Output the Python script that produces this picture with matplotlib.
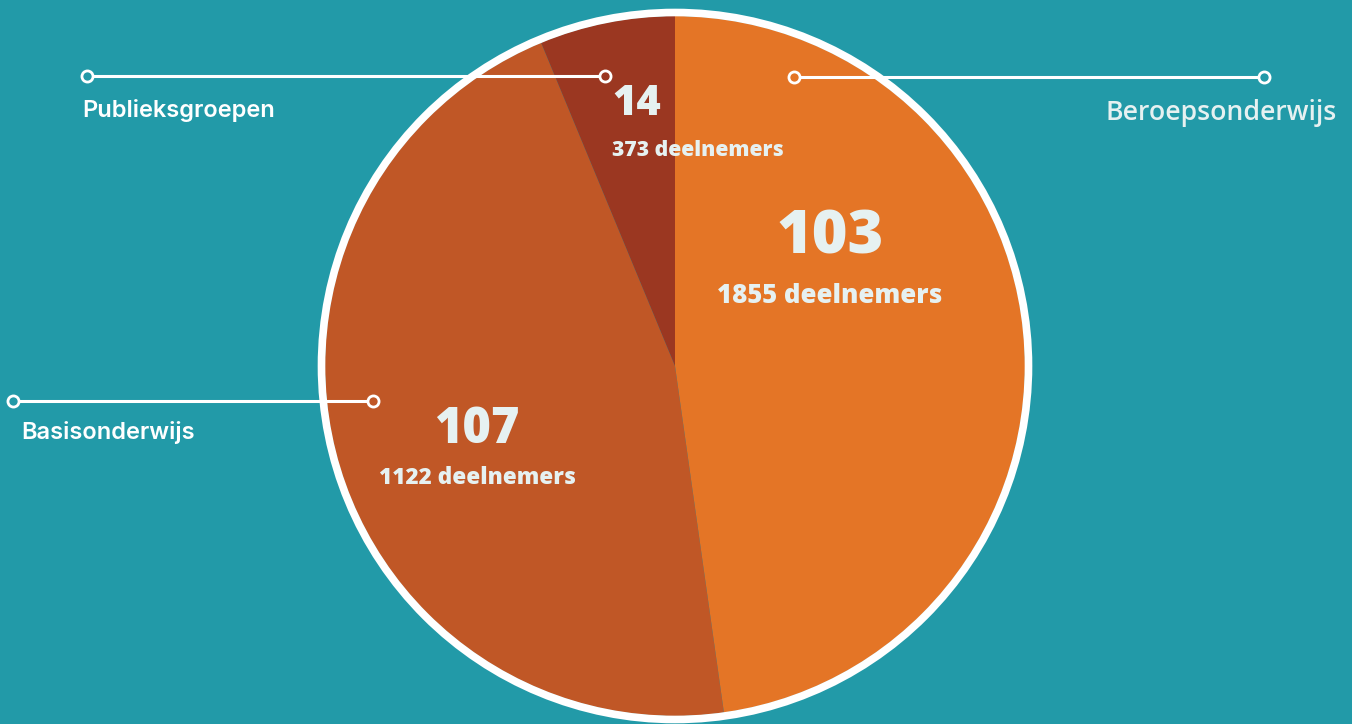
import matplotlib.pyplot as plt
from matplotlib.patches import Circle

# data
categories = ["Beroepsonderwijs", "Basisonderwijs", "Publieksgroepen"]
counts = [103, 107, 14]
participants = [1855, 1122, 373]
# wedge sizes as they are drawn (orange, red, dark red), clockwise from top
slice_sizes = [107, 103, 14]
slice_colors = ["#E47526", "#C05726", "#9B3721"]

bg = "#229AA8"
txt = "#E6F1F1"
H = 724

fig = plt.figure(figsize=(13.52, 7.24), dpi=100, facecolor=bg)
ax = fig.add_axes([0, 0, 1, 1])
ax.set_facecolor(bg)

cx, cy, r = 675, H - 366, 350
ax.pie(slice_sizes, colors=slice_colors, startangle=90, counterclock=False,
       center=(cx, cy), radius=r, frame=True,
       wedgeprops=dict(linewidth=0, antialiased=True))
ax.set_xlim(0, 1352)
ax.set_ylim(0, H)
ax.set_aspect("equal")
ax.axis("off")
ax.add_patch(Circle((cx, cy), r + 3.5, fill=False, ec="white", lw=5.5, zorder=3))

# leader lines: (x0, x1, y, face colours of the two end rings)
leaders = [
    (87, 605, 76, bg, slice_colors[2]),
    (794, 1264, 77, slice_colors[0], bg),
    (13, 373, 401, bg, slice_colors[1]),
]
for x0, x1, y, f0, f1 in leaders:
    ax.plot([x0, x1], [H - y, H - y], color="white", lw=2.2, zorder=4,
            solid_capstyle="butt")
    for x, fc in ((x0, f0), (x1, f1)):
        ax.plot(x, H - y, marker="o", ms=8, mfc=fc, mec="white", mew=2, zorder=5)

# category labels
ax.text(82, H - 111, categories[2], fontsize=17, color="white",
        family="Inter", weight="semibold", ha="left", va="center")
ax.text(1337, H - 113, categories[0], fontsize=19.2, color=txt,
        family="Open Sans", weight="semibold", ha="right", va="center")
ax.text(21, H - 432, categories[1], fontsize=17, color="white",
        family="Inter", weight="semibold", ha="left", va="center")

# value labels
big = dict(color=txt, family="Open Sans", weight="heavy", ha="center", va="center", zorder=6)
ax.text(830, H - 237, str(counts[0]), fontsize=44, **big)
ax.text(830, H - 296, f"{participants[0]} deelnemers", fontsize=18.5, **big)
ax.text(477, H - 430, str(counts[1]), fontsize=35, **big)
ax.text(477, H - 478, f"{participants[1]} deelnemers", fontsize=16.2, **big)
ax.text(637, H - 104, str(counts[2]), fontsize=30, **big)
ax.text(698, H - 150, f"{participants[2]} deelnemers", fontsize=15.2, **big)

fig.savefig("out.png", dpi=100, facecolor=bg)
